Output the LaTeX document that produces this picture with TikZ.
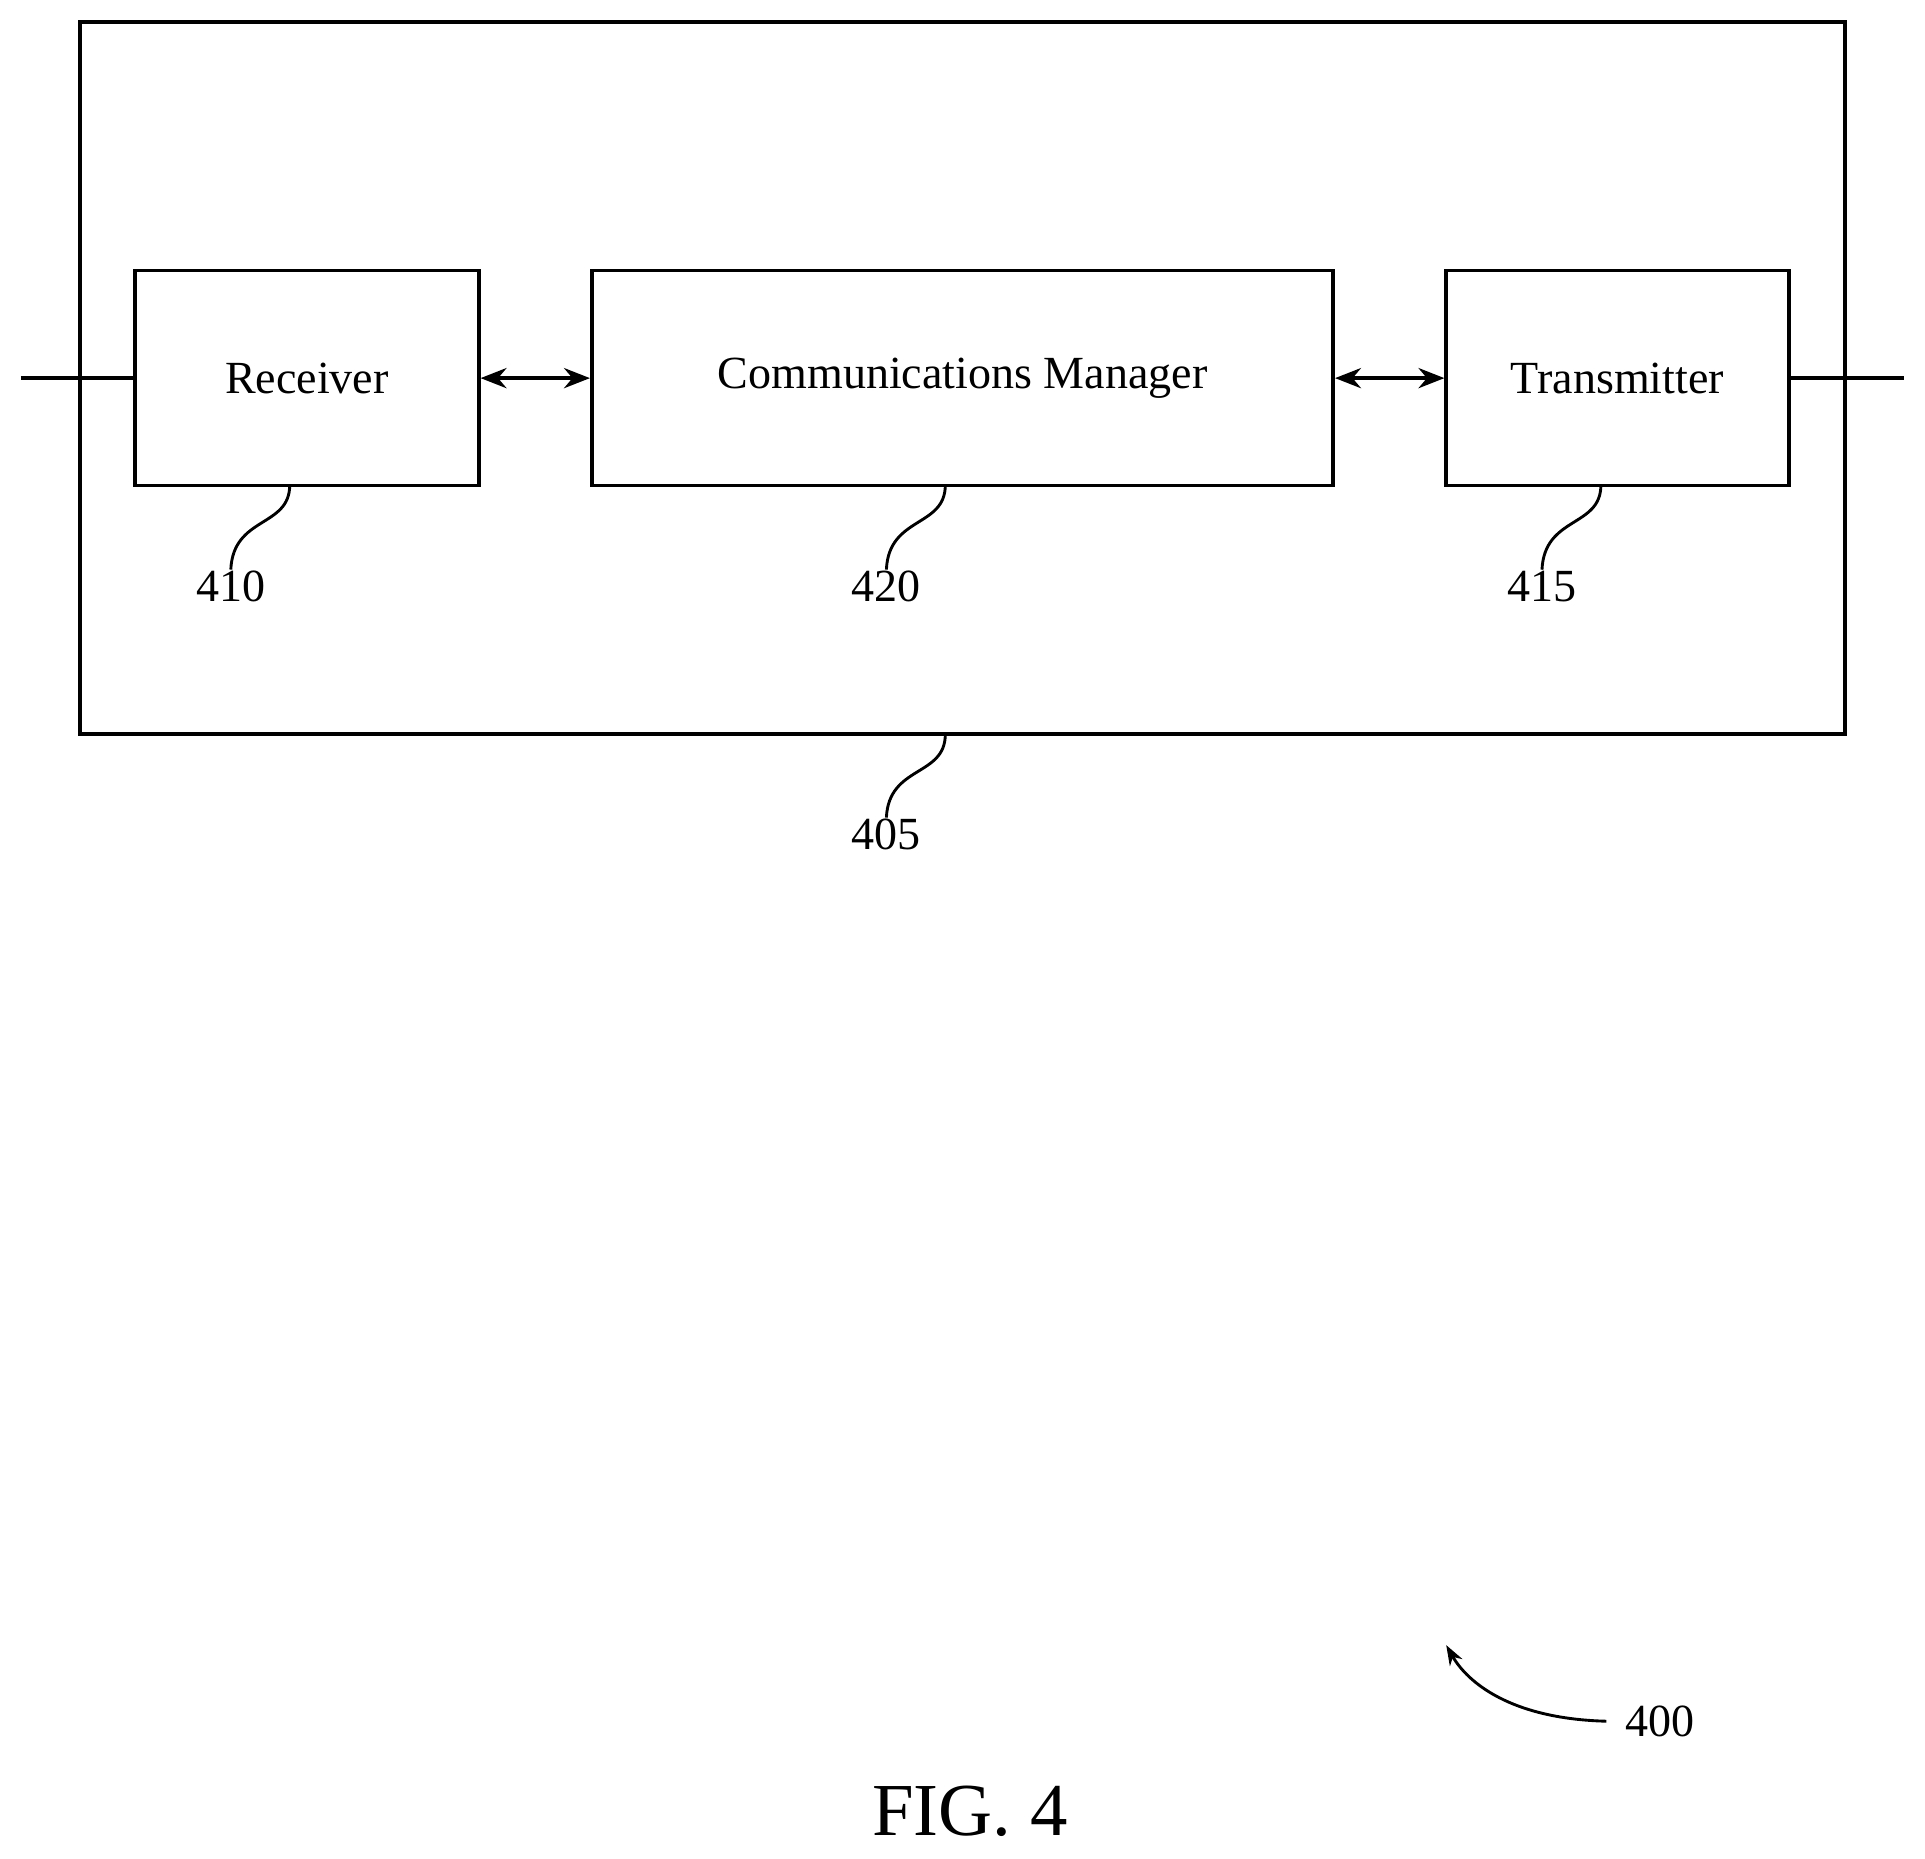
\documentclass[tikz,border=0pt]{standalone}
\usepackage{fontspec}
\setmainfont{Liberation Serif}
\usetikzlibrary{arrows.meta,positioning}
\tikzset{
	block/.style={draw, line width=2.5pt, minimum height=5.25cm, inner sep=0pt, font=\fontsize{32}{36}\selectfont},
	reflabel/.style={font=\fontsize{32}{36}\selectfont, inner sep=1pt},
	squiggle/.style={line width=2pt},
	link/.style={line width=2.5pt, {Stealth[length=18pt,width=14pt]}-{Stealth[length=18pt,width=14pt]}}
}
\begin{document}
\begin{tikzpicture}[x=0.03cm, y=-0.03cm]

			% page frame
			\useasboundingbox (0,0) rectangle (1568,1514);

			% outer device
			\draw[line width=2.5pt] (65,18) rectangle (1503,598);

			% the three blocks
			\node[block, minimum width=8.4cm] (rx) at (250,308) {Receiver};
			\node[block, minimum width=18.12cm] (cm) at (784,308) {Communications Manager};
			\node[block, minimum width=8.37cm] (tx) at (1317.5,308) {Transmitter};

			% connections
			\coordinate (in) at (17,308);
			\coordinate (out) at (1551,308);
			\draw[line width=2.5pt] (in) -- (rx.west);
			\draw[line width=2.5pt] (tx.east) -- (out);
			\draw[link] (rx.east) -- (cm.west);
			\draw[link] (cm.east) -- (tx.west);

			% reference numbers
			\node[reflabel] (n410) at (188,478) {410};
			\node[reflabel] (n420) at (722,478) {420};
			\node[reflabel] (n415) at (1256,478) {415};
			\node[reflabel] (n405) at (722,680) {405};
			\draw[squiggle] (236,395) .. controls (236,430) and (190,420) .. (n410.north);
			\draw[squiggle] (770,395) .. controls (770,430) and (724,420) .. (n420.north);
			\draw[squiggle] (1304,395) .. controls (1304,430) and (1258,420) .. (n415.north);
			\draw[squiggle] (770,598) .. controls (770,633) and (724,623) .. (n405.north);

			% figure number
			\node[reflabel] (n400) at (1352,1402) {400};
			\draw[squiggle, -{Stealth[length=14pt,width=10pt]}] ([xshift=-12pt]n400.west) .. controls (1230,1400) and (1195,1370) .. (1178,1340);
			\node[font=\fontsize{52}{58}\selectfont] (fig) at (790,1475) {FIG. 4};

		\end{tikzpicture}
\end{document}
